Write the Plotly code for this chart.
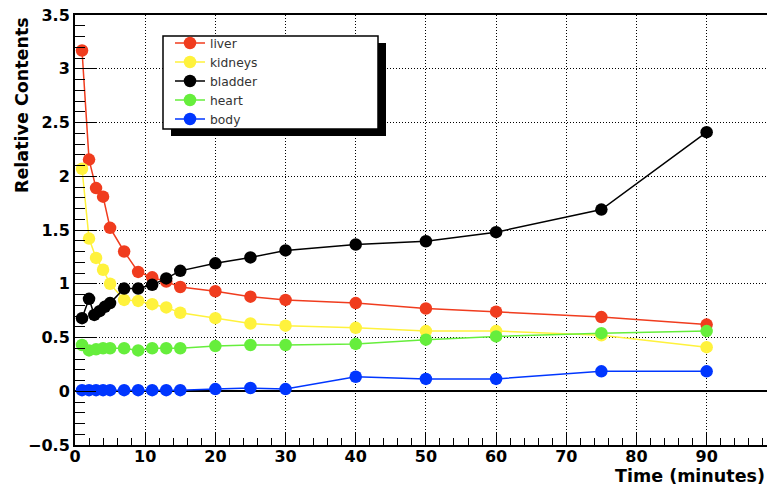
import plotly.graph_objects as go

# ---------------- data ----------------
time_min = [1, 2, 3, 4, 5, 7, 9, 11, 13, 15, 20, 25, 30, 40, 50, 60, 75, 90]
bladder_time = [1, 2, 2.75, 3.5, 4.25, 5, 7, 9, 11, 13, 15, 20, 25, 30, 40, 50, 60, 75, 90]

liver = [3.17, 2.155, 1.89, 1.81, 1.52, 1.30, 1.11, 1.06, 1.02, 0.97,
         0.93, 0.88, 0.85, 0.82, 0.77, 0.74, 0.69, 0.62]
kidneys = [2.07, 1.42, 1.24, 1.13, 1.00, 0.85, 0.84, 0.81, 0.78, 0.73,
           0.68, 0.63, 0.61, 0.59, 0.56, 0.56, 0.52, 0.41]
bladder = [0.68, 0.86, 0.71, 0.745, 0.785, 0.82, 0.955, 0.955, 0.99, 1.05, 1.12,
           1.19, 1.245, 1.31, 1.365, 1.395, 1.48, 1.69, 2.41]
heart = [0.43, 0.38, 0.39, 0.40, 0.40, 0.40, 0.38, 0.40, 0.40, 0.40,
         0.42, 0.43, 0.43, 0.44, 0.48, 0.51, 0.54, 0.56]
body = [0.01, 0.01, 0.01, 0.01, 0.01, 0.01, 0.01, 0.01, 0.01, 0.01,
        0.02, 0.03, 0.02, 0.135, 0.115, 0.115, 0.185, 0.185]

series_names = ["liver", "kidneys", "bladder", "heart", "body"]
series_x = [time_min, time_min, bladder_time, time_min, time_min]
series_y = [liver, kidneys, bladder, heart, body]
series_colors = ["#f03c1e", "#fff23c", "#000000", "#66ee3c", "#0036ff"]

x_title = "Time (minutes)"
y_title = "Relative Contents"

# ---------------- layout geometry ----------------
W, H = 767, 486
ML, MR, MT, MB = 75, 0, 15, 41
PW, PH = W - ML - MR, H - MT - MB


def px_x(px):
    return (px - ML) / PW


def px_y(py):
    return (H - MB - py) / PH


FONT = "DejaVu Sans"

fig = go.Figure()
for name, xs, ys, col in zip(series_names, series_x, series_y, series_colors):
    fig.add_trace(go.Scatter(
        x=xs, y=ys, name=name, mode="lines+markers",
        line=dict(color=col, width=1.5),
        marker=dict(color=col, size=12.5, symbol="circle", line=dict(width=0)),
    ))

axis_common = dict(
    showline=True, linecolor="black", linewidth=2,
    ticks="inside", tickcolor="black", tickwidth=1,
    showgrid=True, gridcolor="black", gridwidth=1, griddash="1px,2px",
    tickfont=dict(family=FONT, size=16, color="black", weight="bold"),
    automargin=False,
)

fig.update_xaxes(
    range=[0, 98.6], dtick=10, tick0=0, ticklen=13, zeroline=False,
    mirror=True, ticklabelstandoff=-4,
    minor=dict(dtick=2, ticklen=7, ticks="inside", tickcolor="black", tickwidth=1, showgrid=False),
    **axis_common,
)
fig.update_yaxes(
    range=[-0.5, 3.5], dtick=0.5, tick0=0, ticklen=21,
    zeroline=True, zerolinecolor="black", zerolinewidth=2,
    minor=dict(dtick=0.1, ticklen=10, ticks="inside", tickcolor="black", tickwidth=1, showgrid=False),
    **axis_common,
)

# legend frame + shadow (box 163-378 x 36-129 px, shadow offset +8,+7)
fig.add_shape(type="rect", xref="paper", yref="paper",
              x0=px_x(171), x1=px_x(386), y0=px_y(136), y1=px_y(43),
              fillcolor="black", line=dict(width=0), layer="above")
fig.add_shape(type="rect", xref="paper", yref="paper",
              x0=px_x(163), x1=px_x(378), y0=px_y(129), y1=px_y(36),
              fillcolor="white", line=dict(color="black", width=1.5), layer="above")

fig.add_annotation(text=y_title, xref="paper", yref="paper",
                   x=px_x(22), y=1, xanchor="center", yanchor="top",
                   textangle=-90, showarrow=False,
                   font=dict(family=FONT, size=17.5, color="black", weight="bold"))
fig.add_annotation(text=x_title, xref="paper", yref="paper",
                   x=1, y=0, xanchor="right", yanchor="top", yshift=-19,
                   showarrow=False,
                   font=dict(family=FONT, size=17.5, color="black", weight="bold"))

fig.update_layout(
    width=W, height=H,
    margin=dict(l=ML, r=MR, t=MT, b=MB, pad=0),
    paper_bgcolor="white", plot_bgcolor="white",
    showlegend=True,
    legend=dict(x=px_x(170), y=px_y(28.5), xanchor="left", yanchor="top",
                bgcolor="rgba(0,0,0,0)", borderwidth=0,
                font=dict(family=FONT, size=12.3, color="#333333"),
                tracegroupgap=0),
)

fig.write_html(
    "out.html",
    config={"displayModeBar": False},
    post_script="document.body.style.margin='0px';document.body.style.overflow='hidden';",
)
